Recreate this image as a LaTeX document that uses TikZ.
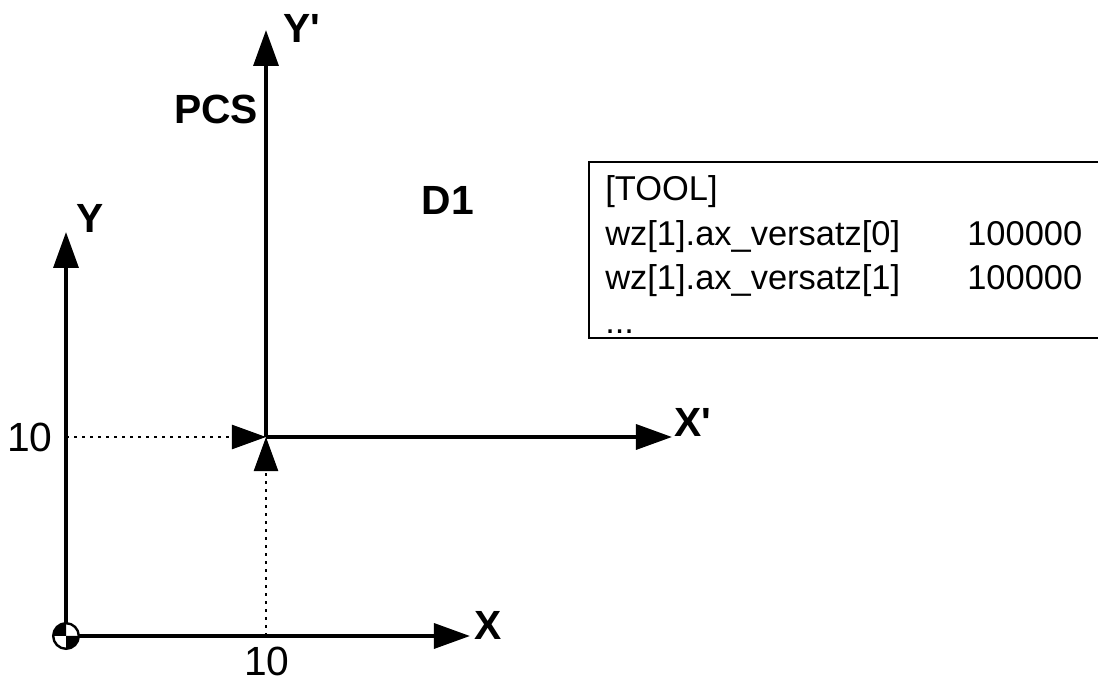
\documentclass[tikz,border=0pt]{standalone}
\usepackage{fontspec}
\setmainfont{Liberation Sans}[Ligatures=TeXOff]
\usetikzlibrary{arrows.meta}
\tikzset{
  axis/.style={line width=0.1cm, -{Triangle[length=0.9cm,width=0.62cm]}},
  guide/.style={line width=0.06cm, dash pattern=on 0.07cm off 0.13cm, -{Triangle[length=0.85cm,width=0.6cm]}},
  axlabel/.style={font=\fontsize{29}{34}\selectfont\bfseries, inner sep=0pt},
  numlabel/.style={font=\fontsize{29}{34}\selectfont, inner sep=0pt},
  tooltext/.style={font=\fontsize{24.5}{29}\selectfont, anchor=base west, inner sep=0pt}
}

\begin{document}
\begin{tikzpicture}[x=0.025cm,y=0.025cm]
\useasboundingbox (0,0) rectangle (1098,682);
\coordinate (O) at (66,46);
\coordinate (xtip) at (470,46);
\coordinate (ytip) at (66,450);
\coordinate (P) at (266,245);
\coordinate (xptip) at (672,245);
\coordinate (yptip) at (266,652);
\coordinate (ymark) at (66,245);
\coordinate (xmark) at (266,46);
\draw [guide] (ymark) -- (P);
\draw [guide] (xmark) -- (P);
\draw [axis] (O) -- (xtip);
\draw [axis] (O) -- (ytip);
\draw [axis] (P) -- (xptip);
\draw [axis] (P) -- (yptip);
\fill [white] (O) circle (0.32cm);
\fill (O) -- ++(-0.32cm,0) arc [start angle=180, end angle=90, radius=0.32cm] -- cycle;
\fill (O) -- ++(0.32cm,0) arc [start angle=0, end angle=-90, radius=0.32cm] -- cycle;
\draw [line width=0.06cm] (O) circle (0.32cm);
\node [axlabel] (xlab) at (488,57) {X};
\node [axlabel] (ylab) at (90,464) {Y};
\node [axlabel] (xplab) at (693,260) {X'};
\node [axlabel] (yplab) at (302,654) {Y'};
\node [axlabel] (pcs) at (216,573) {PCS};
\node [axlabel] (d1) at (448,482) {D1};
\node [numlabel] (xten) at (267,21) {10};
\node [numlabel] (yten) at (30,245) {10};
\draw [line width=0.06cm] (1110,520) -- (589,520) -- (589,344) -- (1110,344);
\node [tooltext] (tool) at (605,481) {[TOOL]};
\node [tooltext] (off0) at (605,436) {wz[1].ax\_versatz[0]};
\node [tooltext] (off1) at (605,392) {wz[1].ax\_versatz[1]};
\node [tooltext] (more) at (605,348) {...};
\node [tooltext] (val0) at (967,436) {100000};
\node [tooltext] (val1) at (967,392) {100000};
\end{tikzpicture}
\end{document}
